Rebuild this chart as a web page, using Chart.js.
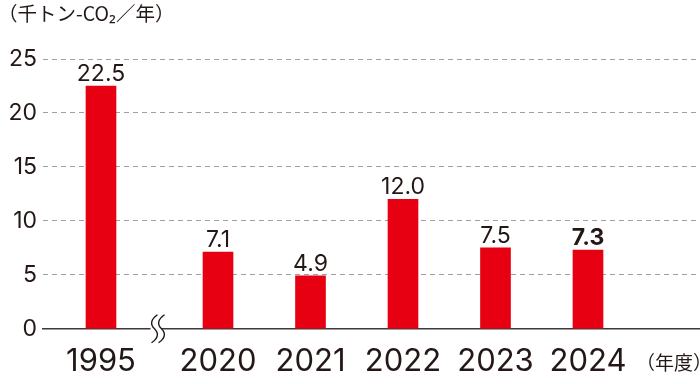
<!DOCTYPE html>
<html>
<head>
<meta charset="utf-8">
<script src="https://cdn.jsdelivr.net/npm/chart.js@4"></script>
<style>
  body { margin: 0; background: #fff; }
  canvas { display: block; }
</style>
</head>
<body>
<canvas id="chart" width="700" height="384"></canvas>
<script>
const years = ['1995', '2020', '2021', '2022', '2023', '2024'];
const emissions = [22.5, 7.1, 4.9, 12.0, 7.5, 7.3];
const yTicks = [0, 5, 10, 15, 20, 25];

const unitLabel = '（千トン-CO\u2082／年）';
const yearLabel = '（年度）';

// gap between 1995 and 2020 (axis break)
const breakGap = 0.265;
const xPos = years.map((y, i) => i + (i > 0 ? breakGap : 0));

const textColor = '#231815';
const barColor = '#e60012';
const numFont = 'Inter, "Noto Sans", sans-serif';
const jpFont = '"Noto Sans CJK JP", "Noto Sans", sans-serif';

const extras = {
    id: 'extras',
    afterDatasetsDraw(chart) {
        const ctx = chart.ctx;
        const meta = chart.getDatasetMeta(0);
        ctx.save();
        ctx.fillStyle = textColor;
        ctx.textAlign = 'center';
        ctx.textBaseline = 'alphabetic';
        meta.data.forEach((bar, i) => {
            const last = i === emissions.length - 1;
            ctx.font = (last ? 'bold ' : '') + '23px ' + numFont;
            ctx.fillText(emissions[i].toFixed(1), bar.x, bar.y - 5);
        });
        ctx.restore();
    },
    afterDraw(chart) {
        const ctx = chart.ctx;
        const xs = chart.scales.x;
        const area = chart.chartArea;
        ctx.save();

        // axis break
        const cx = (xs.getPixelForValue(xPos[0]) + xs.getPixelForValue(xPos[1])) / 2 - 5;
        const cy = area.bottom;
        ctx.fillStyle = '#fff';
        ctx.fillRect(cx - 4, cy - 2, 11, 4);
        ctx.strokeStyle = textColor;
        ctx.lineWidth = 1.4;
        [0, 7].forEach(dx => {
            const x = cx + dx;
            ctx.beginPath();
            ctx.moveTo(x + 3, cy - 14);
            ctx.quadraticCurveTo(x - 7, cy - 7, x, cy);
            ctx.quadraticCurveTo(x + 7, cy + 7, x - 3, cy + 14);
            ctx.stroke();
        });

        ctx.fillStyle = textColor;
        ctx.textBaseline = 'middle';
        ctx.textAlign = 'left';
        ctx.font = '19.5px ' + jpFont;
        ctx.fillText(unitLabel, -2, 14);
        ctx.font = '19px ' + jpFont;
        ctx.fillText(yearLabel, 636, 363);
        ctx.restore();
    }
};

new Chart(document.getElementById('chart'), {
    type: 'bar',
    data: {
        datasets: [{
            data: xPos.map((x, i) => ({ x: x, y: emissions[i] })),
            backgroundColor: barColor,
            barThickness: 30
        }]
    },
    options: {
        responsive: false,
        animation: false,
        layout: { padding: { top: 59, right: 0, bottom: -10, left: 0 } },
        plugins: {
            legend: { display: false },
            tooltip: { enabled: false }
        },
        scales: {
            x: {
                type: 'linear',
                offset: false,
                min: -0.627,
                max: 6.476,
                grid: { display: false, drawTicks: false },
                border: { display: true, color: '#3e3a39', width: 1.5 },
                afterBuildTicks: (s) => { s.ticks = xPos.map(v => ({ value: v })); },
                ticks: {
                    autoSkip: false,
                    maxRotation: 0,
                    padding: 14,
                    color: textColor,
                    font: { family: numFont, size: 31 },
                    callback: (v, i) => years[i]
                }
            },
            y: {
                min: 0,
                max: 25,
                afterFit: (s) => { s.width = 43; },
                afterBuildTicks: (s) => { s.ticks = yTicks.map(v => ({ value: v })); },
                grid: { color: '#a0a0a0', lineWidth: 1, drawTicks: false },
                border: { display: false, dash: [5, 4] },
                ticks: {
                    padding: 6,
                    color: textColor,
                    font: { family: numFont, size: 23 }
                }
            }
        }
    },
    plugins: [extras]
});
</script>
</body>
</html>
